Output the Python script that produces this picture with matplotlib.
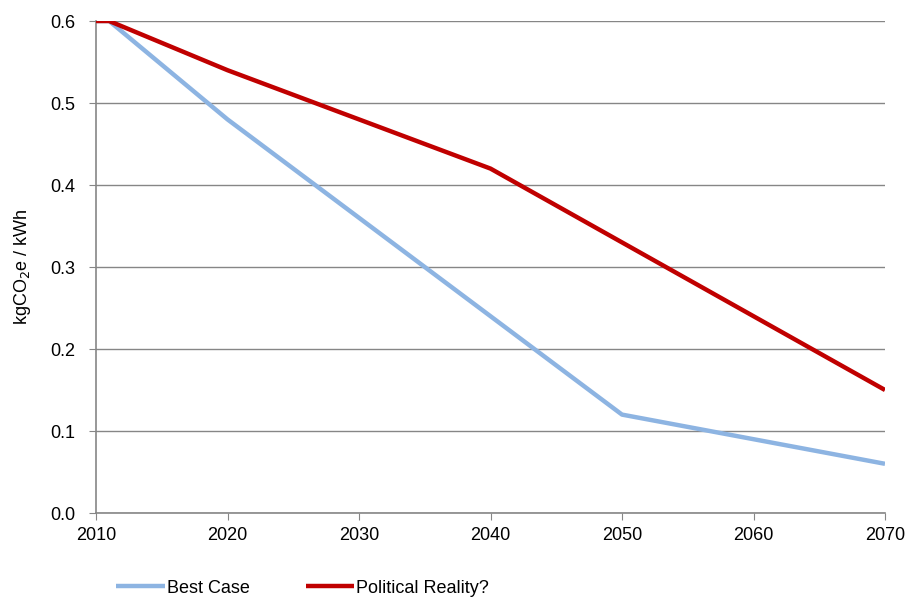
import matplotlib.pyplot as plt

plt.rcParams['font.family'] = ['Liberation Sans', 'DejaVu Sans']

# data
years = [2010, 2011, 2020, 2030, 2040, 2050, 2060, 2070]
best_case = [0.6, 0.6, 0.48, 0.36, 0.24, 0.12, 0.09, 0.06]
political = [0.6, 0.6, 0.54, 0.48, 0.42, 0.33, 0.24, 0.15]
xticks = [2010, 2020, 2030, 2040, 2050, 2060, 2070]
yticks = [0.0, 0.1, 0.2, 0.3, 0.4, 0.5, 0.6]

fig = plt.figure(figsize=(9.07, 5.97), dpi=100)
ax = fig.add_axes([96 / 907, 1 - 513 / 597, (885 - 96) / 907, (513 - 21) / 597])

grey = '#868686'
ax.plot(years, best_case, color='#8DB4E2', lw=3.2, label='Best Case', solid_capstyle='butt', zorder=3)
ax.plot(years, political, color='#C00000', lw=3.2, label='Political Reality?', solid_capstyle='butt', zorder=4)

ax.set_xlim(2010, 2070)
ax.set_ylim(0, 0.6)
ax.set_xticks(xticks)
ax.set_yticks(yticks)
ax.set_yticklabels([f'{v:.1f}' for v in yticks])
ax.yaxis.grid(True, color=grey, lw=1)
ax.set_axisbelow(True)
for s in ['top', 'right']:
    ax.spines[s].set_visible(False)
for s in ['left', 'bottom']:
    ax.spines[s].set_color(grey)
    ax.spines[s].set_linewidth(1.2)
ax.tick_params(axis='x', direction='out', length=5, color=grey, labelsize=13, pad=5)
ax.tick_params(axis='y', direction='out', length=5, color=grey, labelsize=13, pad=10)
ax.set_ylabel('kgCO$_2$e / kWh', fontsize=13, labelpad=12)

ax.legend(loc='center left', bbox_to_anchor=(0.005, -0.153), ncol=2, frameon=False,
          fontsize=13, handlelength=2.7, handletextpad=0.1, columnspacing=3.1)

fig.savefig('out.png', dpi=100)
